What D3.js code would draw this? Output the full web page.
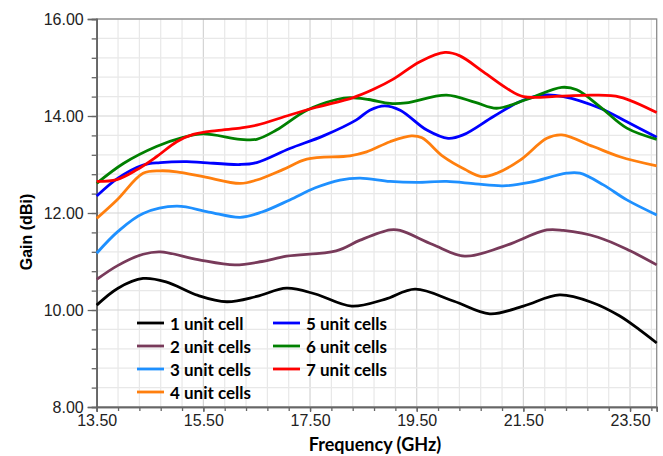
<!DOCTYPE html>
<html>
<head>
<meta charset="utf-8">
<script src="https://cdn.jsdelivr.net/npm/d3@7"></script>
<style>
  body { margin: 0; background: #fff; }
  .tick-label { font-family: "Liberation Sans", Arial, sans-serif; font-size: 16px; fill: #222; }
  .legend-text { font-family: Lato, "Open Sans", sans-serif; font-weight: bold; font-size: 17px; fill: #000; }
</style>
</head>
<body>
<svg id="chart" width="663" height="456"></svg>
<script>
//-------------------------------------------------
// Data (freq in GHz, gain in dBi)
//-------------------------------------------------
var seriesNames = ["1 unit cell", "2 unit cells", "3 unit cells", "4 unit cells",
                   "5 unit cells", "6 unit cells", "7 unit cells"];
var seriesColors = ["#000000", "#783a5a", "#1e90ff", "#ff7f0e", "#0000ff", "#008000", "#ff0000"];

var cell1 = [[13.5,10.10],[13.9,10.45],[14.37,10.65],[14.8,10.58],[15.4,10.30],[15.94,10.17],[16.5,10.28],[17.06,10.45],[17.6,10.33],[18.28,10.08],[18.9,10.22],[19.47,10.43],[20.2,10.18],[20.87,9.92],[21.5,10.08],[22.18,10.31],[22.8,10.15],[23.3,9.88],[23.68,9.59],[24.0,9.32]];
var cell2 = [[13.5,10.63],[13.9,10.92],[14.37,11.15],[14.69,11.20],[15.4,11.04],[16.09,10.93],[16.6,11.00],[17.06,11.11],[17.99,11.22],[18.44,11.44],[19.0,11.65],[19.19,11.64],[19.8,11.35],[20.4,11.11],[21.1,11.30],[21.94,11.65],[22.25,11.64],[22.9,11.50],[23.5,11.22],[24.0,10.93]];
var cell3 = [[13.5,11.17],[13.9,11.62],[14.37,11.99],[15.0,12.14],[15.6,12.02],[16.19,11.91],[16.6,12.02],[17.12,12.27],[17.6,12.52],[18.06,12.68],[18.44,12.72],[19.0,12.65],[19.5,12.63],[20.06,12.65],[20.6,12.60],[21.12,12.56],[21.62,12.63],[22.31,12.82],[22.56,12.82],[23.0,12.58],[23.44,12.27],[24.0,11.96]];
var cell4 = [[13.5,11.89],[13.88,12.27],[14.37,12.82],[14.69,12.87],[15.0,12.85],[15.5,12.75],[16.19,12.61],[16.5,12.68],[17.0,12.90],[17.44,13.11],[18.25,13.18],[18.56,13.26],[19.0,13.47],[19.4,13.59],[19.6,13.55],[20.0,13.16],[20.4,12.90],[20.72,12.75],[21.0,12.82],[21.44,13.09],[21.94,13.54],[22.22,13.61],[22.81,13.37],[23.31,13.16],[24.0,12.97]];
var cell5 = [[13.5,12.35],[13.9,12.72],[14.37,12.99],[14.69,13.04],[15.19,13.06],[15.5,13.04],[16.19,13.00],[16.5,13.04],[17.12,13.33],[17.75,13.59],[18.37,13.92],[18.62,14.12],[18.9,14.21],[19.19,14.12],[19.69,13.71],[20.09,13.54],[20.37,13.61],[20.94,13.99],[21.44,14.30],[21.87,14.43],[22.25,14.40],[22.94,14.16],[23.44,13.88],[24.0,13.56]];
var cell6 = [[13.5,12.61],[14.0,13.02],[14.62,13.37],[15.12,13.56],[15.5,13.63],[16.19,13.52],[16.5,13.52],[16.87,13.71],[17.44,14.12],[18.0,14.34],[18.25,14.38],[18.6,14.34],[19.0,14.26],[19.3,14.27],[20.06,14.43],[20.6,14.28],[21.0,14.16],[21.56,14.34],[22.22,14.59],[22.5,14.54],[22.94,14.19],[23.44,13.75],[24.0,13.52]];
var cell7 = [[13.5,12.65],[13.88,12.69],[14.25,12.89],[14.62,13.16],[15.0,13.47],[15.31,13.62],[15.75,13.70],[16.19,13.75],[16.5,13.81],[17.12,14.02],[17.62,14.18],[18.31,14.38],[18.69,14.55],[19.06,14.76],[19.56,15.12],[20.03,15.31],[20.31,15.24],[20.75,14.91],[21.19,14.57],[21.5,14.40],[22.19,14.41],[22.81,14.43],[23.31,14.39],[24.0,14.07]];
var allSeries = [cell1, cell2, cell3, cell4, cell5, cell6, cell7];

var xTickValues = [13.5, 15.5, 17.5, 19.5, 21.5, 23.5];
var yTickValues = [8, 10, 12, 14, 16];
//-------------------------------------------------

var margin = {top: 19, right: 6.3, bottom: 49, left: 96.7};
var width = 663 - margin.left - margin.right;
var height = 456 - margin.top - margin.bottom;

var svg = d3.select("#chart");
var g = svg.append("g").attr("transform", "translate(" + margin.left + "," + margin.top + ")");

var x = d3.scaleLinear().domain([13.5, 24.0]).range([0, width]);
var y = d3.scaleLinear().domain([8, 16]).range([height, 0]);

// minor grid every 0.4
var xMinor = d3.range(0, 27).map(function(i){ return 13.5 + i * 0.4; }).filter(function(v){ return v <= 24.0001; });
var yMinor = d3.range(0, 21).map(function(i){ return 8 + i * 0.4; });

g.selectAll(".vgrid").data(xMinor).enter().append("line")
  .attr("x1", function(d){ return x(d); }).attr("x2", function(d){ return x(d); })
  .attr("y1", 0).attr("y2", height)
  .style("stroke", function(d){ return Math.abs((d - 13.5) % 2) < 0.01 || Math.abs((d - 13.5) % 2 - 2) < 0.01 ? "#d4d4d4" : "#e8e8e8"; })
  .style("stroke-width", 1.2);

g.selectAll(".hgrid").data(yMinor).enter().append("line")
  .attr("x1", 0).attr("x2", width)
  .attr("y1", function(d){ return y(d); }).attr("y2", function(d){ return y(d); })
  .style("stroke", function(d){ return Math.abs(d - Math.round(d)) < 0.01 && Math.round(d) % 2 === 0 ? "#d4d4d4" : "#e8e8e8"; })
  .style("stroke-width", 1.2);

// frame
g.append("rect").attr("width", width).attr("height", height)
  .style("fill", "none").style("stroke", "#8c8c8c").style("stroke-width", 1.3);

// axes
var yAxis = g.append("g").call(d3.axisLeft(y).tickValues(yTickValues).tickFormat(d3.format(".2f")).tickSize(9).tickPadding(4));
var yMinorAxis = g.append("g").call(d3.axisLeft(y).tickValues(yMinor).tickFormat("").tickSize(5));
var xAxis = g.append("g").attr("transform", "translate(0," + height + ")")
  .call(d3.axisBottom(x).tickValues(xTickValues).tickFormat(d3.format(".2f")).tickSize(5).tickPadding(3));
var xMinorAxis = g.append("g").attr("transform", "translate(0," + height + ")")
  .call(d3.axisBottom(x).tickValues(xMinor).tickFormat("").tickSize(4));

[yAxis, yMinorAxis, xAxis, xMinorAxis].forEach(function(a){
  a.attr("font-family", null).attr("font-size", null);
  a.select(".domain").style("stroke", "#666").style("stroke-width", 1.5);
  a.selectAll(".tick line").style("stroke", "#666").style("stroke-width", 1.3);
  a.selectAll("text").attr("class", "tick-label");
});

// curves
var line = d3.line()
  .x(function(d){ return x(d[0]); })
  .y(function(d){ return y(d[1]); })
  .curve(d3.curveCatmullRom.alpha(0.5));

g.selectAll(".series").data(allSeries).enter().append("path")
  .attr("class", "series")
  .attr("d", line)
  .style("fill", "none")
  .style("stroke", function(d, i){ return seriesColors[i]; })
  .style("stroke-width", 2.8)
  .style("stroke-linejoin", "round");

// axis titles
svg.append("text")
  .attr("x", 375).attr("y", 451)
  .attr("text-anchor", "middle")
  .style("font-family", "Lato, sans-serif").style("font-weight", "bold").style("font-size", "18px")
  .text("Frequency (GHz)");

svg.append("text")
  .attr("transform", "translate(32,232) rotate(-90)")
  .attr("text-anchor", "middle")
  .style("font-family", "'Liberation Sans', Arial, sans-serif").style("font-weight", "bold").style("font-size", "16px")
  .text("Gain (dBi)");

// legend
var legendPos = [[137,323],[137,346],[137,369],[137,392],[273,323],[273,346],[273,369]];
var key = svg.append("g").attr("class", "legend");
seriesNames.forEach(function(name, i){
  var p = legendPos[i];
  key.append("line")
    .attr("x1", p[0]).attr("x2", p[0] + 27)
    .attr("y1", p[1]).attr("y2", p[1])
    .style("stroke", seriesColors[i]).style("stroke-width", 2.8);
  key.append("text")
    .attr("class", "legend-text")
    .attr("x", p[0] + 33).attr("y", p[1])
    .attr("dominant-baseline", "central")
    .text(name);
});
</script>
</body>
</html>
